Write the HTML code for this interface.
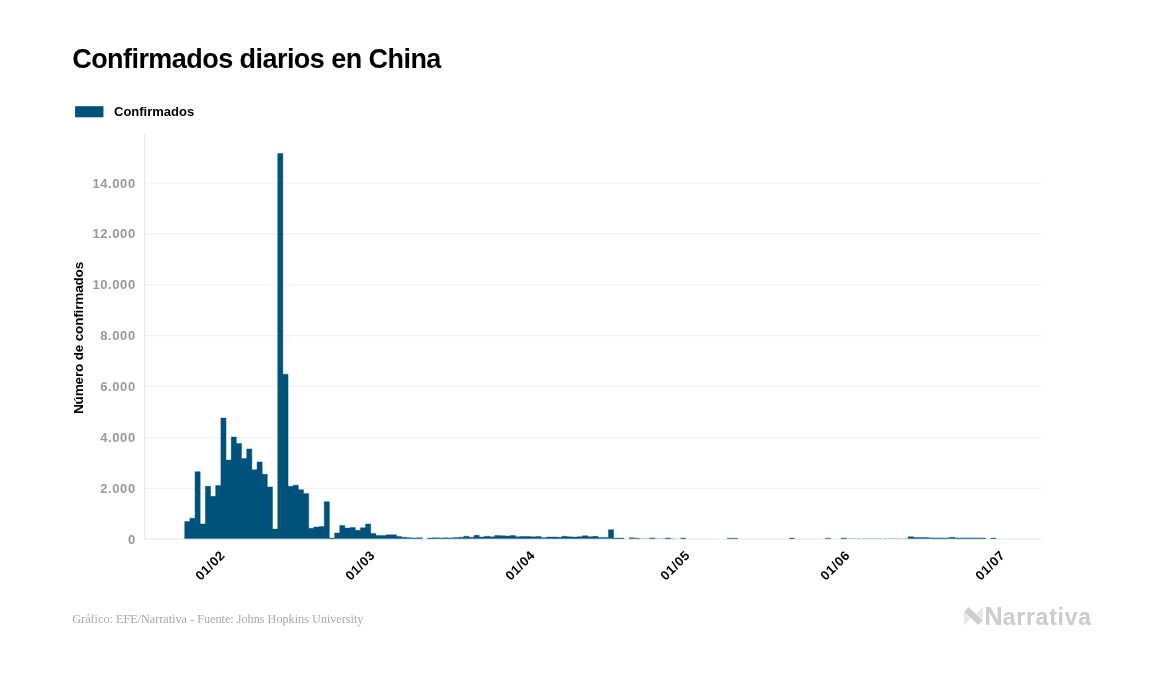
<!DOCTYPE html>
<html lang="es"><head><meta charset="utf-8"><title>Confirmados diarios en China</title>
<style>
html,body{margin:0;padding:0;background:#fff;}
body{width:1157px;height:674px;position:relative;overflow:hidden;font-family:"Liberation Sans",sans-serif;}
.title{position:absolute;left:72.2px;top:42.6px;font-size:27px;font-weight:bold;color:#000;white-space:nowrap;letter-spacing:-0.55px;line-height:32px;}
.legend{position:absolute;left:114px;top:104.2px;font-size:13px;font-weight:bold;color:#000;line-height:16px;white-space:nowrap;}
.yl{position:absolute;left:60.8px;width:75px;text-align:right;font-size:13px;font-weight:bold;color:#999;line-height:16px;letter-spacing:0.6px;white-space:nowrap;}
.xl{position:absolute;top:544.6px;width:100px;text-align:right;font-size:13px;font-weight:bold;color:#000;line-height:16px;letter-spacing:0.6px;transform-origin:100% 50%;transform:rotate(-45deg);white-space:nowrap;}
.ytitle{position:absolute;left:-21.5px;top:329.5px;width:200px;text-align:center;font-size:13.6px;font-weight:bold;color:#000;line-height:16px;letter-spacing:-0.2px;transform:rotate(-90deg);white-space:nowrap;}
.foot{position:absolute;left:72.3px;top:611.5px;font-family:"Liberation Serif",serif;font-size:12.2px;color:#a9a9a9;line-height:15px;white-space:nowrap;}
.brand{position:absolute;left:984.2px;top:601.4px;font-size:23px;font-weight:bold;color:#cccccc;line-height:30px;white-space:nowrap;letter-spacing:0.75px;}
.brand b{font-size:25.6px;letter-spacing:0;}
svg{position:absolute;left:0;top:0;}
</style></head><body>
<div class="title">Confirmados diarios en China</div>
<div class="legend">Confirmados</div>
<svg width="1157" height="674" viewBox="0 0 1157 674">
<rect x="145.2" y="487.86" width="896.2" height="1" fill="#efefef"/>
<rect x="145.2" y="436.97" width="896.2" height="1" fill="#efefef"/>
<rect x="145.2" y="386.08" width="896.2" height="1" fill="#efefef"/>
<rect x="145.2" y="335.19" width="896.2" height="1" fill="#efefef"/>
<rect x="145.2" y="284.30" width="896.2" height="1" fill="#efefef"/>
<rect x="145.2" y="233.41" width="896.2" height="1" fill="#efefef"/>
<rect x="145.2" y="182.52" width="896.2" height="1" fill="#efefef"/>
<rect x="144.2" y="134" width="1" height="405.6" fill="#e6e6e6"/>
<rect x="144.2" y="538.6" width="897.2" height="1" fill="#e6e6e6"/>
<g fill="#01527a">
<rect x="75.1" y="106.2" width="28.35" height="11.1"/>
<path stroke="#01527a" stroke-width="0.4" stroke-linejoin="miter" d="M184.70,538.6L184.70,521.58L189.87,521.58L189.87,518.19L195.03,518.19L195.03,471.63L200.20,471.63L200.20,523.89L205.37,523.89L205.37,486.34L210.54,486.34L210.54,496.34L215.70,496.34L215.70,485.45L220.87,485.45L220.87,418.03L226.04,418.03L226.04,460.08L231.21,460.08L231.21,437.06L236.37,437.06L236.38,443.62L241.54,443.62L241.54,458.53L246.71,458.53L246.71,448.96L251.88,448.96L251.88,469.80L257.05,469.80L257.04,461.89L262.21,461.89L262.21,474.36L267.38,474.36L267.38,486.90L272.55,486.90L272.55,529.11L277.72,529.11L277.72,153.49L282.88,153.49L282.88,374.16L288.05,374.16L288.05,486.31L293.22,486.31L293.22,485.17L298.38,485.17L298.38,489.72L303.55,489.72L303.55,493.39L308.72,493.39L308.72,528.22L313.89,528.22L313.89,526.95L319.06,526.95L319.06,526.57L324.22,526.57L324.22,501.68L329.39,501.68L329.39,538.07L334.56,538.07L334.56,533.03L339.73,533.03L339.73,525.55L344.89,525.55L344.89,528.12L350.06,528.12L350.06,527.56L355.23,527.56L355.23,530.25L360.39,530.25L360.39,527.71L365.56,527.71L365.56,523.94L370.73,523.94L370.73,533.41L375.90,533.41L375.90,535.42L381.07,535.42L381.06,535.42L386.23,535.42L386.23,534.76L391.40,534.76L391.40,534.71L396.57,534.71L396.57,536.56L401.74,536.56L401.74,537.25L406.90,537.25L406.90,537.66L412.07,537.66L412.07,537.91L417.24,537.91L417.24,537.73L422.41,537.73L422.40,538.6ZM427.57,538.6L427.57,537.99L432.74,537.99L432.74,537.79L437.91,537.79L437.91,537.94L443.08,537.94L443.07,537.84L448.24,537.84L448.24,537.96L453.41,537.96L453.41,537.48L458.58,537.48L458.58,537.20L463.75,537.20L463.75,536.18L468.91,536.18L468.91,537.20L474.08,537.20L474.08,535.29L479.25,535.29L479.25,537.00L484.42,537.00L484.42,536.23L489.58,536.23L489.58,536.82L494.75,536.82L494.75,535.52L499.92,535.52L499.92,535.67L505.09,535.67L505.09,536.00L510.25,536.00L510.25,535.47L515.42,535.47L515.42,536.67L520.59,536.67L520.59,536.54L525.76,536.54L525.75,536.51L530.92,536.51L530.92,536.79L536.09,536.79L536.09,536.59L541.26,536.59L541.26,537.79L546.42,537.79L546.42,537.12L551.59,537.12L551.59,537.02L556.76,537.02L556.76,537.20L561.93,537.20L561.93,536.26L567.10,536.26L567.10,536.79L572.26,536.79L572.26,537.12L577.43,537.12L577.43,536.64L582.60,536.64L582.60,535.72L587.77,535.72L587.77,536.69L592.93,536.69L592.93,536.31L598.10,536.31L598.10,537.38L603.27,537.38L603.27,537.38L608.44,537.38L608.43,529.64L613.60,529.64L613.60,537.96L618.77,537.96L618.77,538.09L623.94,538.09L623.94,538.6ZM629.11,538.6L629.11,537.84L634.27,537.84L634.27,538.22L639.44,538.22L639.44,538.6ZM649.78,538.6L649.78,537.96L654.94,537.96L654.94,538.6ZM665.28,538.6L665.28,538.04L670.45,538.04L670.45,538.6ZM680.78,538.6L680.78,538.09L685.95,538.09L685.95,538.6ZM727.29,538.6L727.29,538.17L732.46,538.17L732.45,538.24L737.62,538.24L737.62,538.6ZM789.30,538.6L789.30,538.09L794.47,538.09L794.47,538.6ZM825.47,538.6L825.47,538.14L830.64,538.14L830.64,538.6ZM840.97,538.6L840.97,538.09L846.14,538.09L846.14,538.6ZM908.15,538.6L908.15,536.77L913.32,536.77L913.32,537.38L918.49,537.38L918.49,537.43L923.65,537.43L923.65,537.46L928.82,537.46L928.82,537.89L933.99,537.89L933.99,537.89L939.15,537.89L939.15,537.91L944.32,537.91L944.32,537.91L949.49,537.91L949.49,537.28L954.66,537.28L954.66,537.96L959.83,537.96L959.83,537.96L964.99,537.96L964.99,537.96L970.16,537.96L970.16,537.96L975.33,537.96L975.33,537.96L980.50,537.96L980.50,537.96L985.66,537.96L985.66,538.6ZM990.83,538.6L990.83,538.09L996.00,538.09L996.00,538.6Z"/>
<path d="M624.34,538.8000000000001h4.37v-0.17h-4.37zM639.84,538.8000000000001h4.37v-0.22h-4.37zM645.01,538.8000000000001h4.37v-0.22h-4.37zM655.34,538.8000000000001h4.37v-0.19h-4.37zM660.51,538.8000000000001h4.37v-0.19h-4.37zM670.85,538.8000000000001h4.37v-0.19h-4.37zM676.01,538.8000000000001h4.37v-0.17h-4.37zM686.35,538.8000000000001h4.37v-0.17h-4.37zM691.51,538.8000000000001h4.37v-0.17h-4.37zM696.68,538.8000000000001h4.37v-0.17h-4.37zM701.85,538.8000000000001h4.37v-0.17h-4.37zM707.02,538.8000000000001h4.37v-0.17h-4.37zM712.19,538.8000000000001h4.37v-0.17h-4.37zM717.35,538.8000000000001h4.37v-0.17h-4.37zM722.52,538.8000000000001h4.37v-0.17h-4.37zM738.02,538.8000000000001h4.37v-0.17h-4.37zM743.19,538.8000000000001h4.37v-0.17h-4.37zM748.36,538.8000000000001h4.37v-0.17h-4.37zM753.52,538.8000000000001h4.37v-0.17h-4.37zM758.69,538.8000000000001h4.37v-0.17h-4.37zM763.86,538.8000000000001h4.37v-0.17h-4.37zM769.03,538.8000000000001h4.37v-0.17h-4.37zM774.20,538.8000000000001h4.37v-0.17h-4.37zM779.36,538.8000000000001h4.37v-0.17h-4.37zM784.53,538.8000000000001h4.37v-0.17h-4.37zM794.87,538.8000000000001h4.37v-0.17h-4.37zM800.03,538.8000000000001h4.37v-0.17h-4.37zM805.20,538.8000000000001h4.37v-0.17h-4.37zM810.37,538.8000000000001h4.37v-0.17h-4.37zM815.53,538.8000000000001h4.37v-0.17h-4.37zM820.70,538.8000000000001h4.37v-0.17h-4.37zM831.04,538.8000000000001h4.37v-0.17h-4.37zM836.21,538.8000000000001h4.37v-0.17h-4.37zM846.54,538.8000000000001h4.37v-0.19h-4.37zM851.71,538.8000000000001h4.37v-0.19h-4.37zM856.88,538.8000000000001h4.37v-0.19h-4.37zM862.04,538.8000000000001h4.37v-0.19h-4.37zM867.21,538.8000000000001h4.37v-0.19h-4.37zM872.38,538.8000000000001h4.37v-0.19h-4.37zM877.54,538.8000000000001h4.37v-0.19h-4.37zM882.71,538.8000000000001h4.37v-0.19h-4.37zM887.88,538.8000000000001h4.37v-0.19h-4.37zM893.05,538.8000000000001h4.37v-0.19h-4.37zM898.22,538.8000000000001h4.37v-0.19h-4.37zM903.38,538.8000000000001h4.37v-0.19h-4.37zM986.06,538.8000000000001h4.37v-0.17h-4.37zM996.40,538.8000000000001h4.37v-0.17h-4.37z"/>
</g>
<g>
<polygon points="964.15,612 964.15,625.6 970.5,618.6" fill="#e7e7e7"/>
<polygon points="982.85,606.8 982.85,619.6 976.6,613.3" fill="#e7e7e7"/>
<polygon points="968.5,607 982.85,620.3 978.3,625.1 964.15,611.75" fill="#cecece"/>
</g>
</svg>
<div class="yl" style="top:531.8px">0</div>
<div class="yl" style="top:480.9px">2.000</div>
<div class="yl" style="top:430.0px">4.000</div>
<div class="yl" style="top:379.1px">6.000</div>
<div class="yl" style="top:328.2px">8.000</div>
<div class="yl" style="top:277.3px">10.000</div>
<div class="yl" style="top:226.4px">12.000</div>
<div class="yl" style="top:175.5px">14.000</div>
<div class="xl" style="left:122.9px">01/02</div>
<div class="xl" style="left:272.6px">01/03</div>
<div class="xl" style="left:433.0px">01/04</div>
<div class="xl" style="left:588.1px">01/05</div>
<div class="xl" style="left:747.6px">01/06</div>
<div class="xl" style="left:902.8px">01/07</div>
<div class="ytitle">Número de confirmados</div>
<div class="foot">Gráfico: EFE/Narrativa - Fuente: Johns Hopkins University</div>
<div class="brand"><b>N</b>arrativa</div>
</body></html>
